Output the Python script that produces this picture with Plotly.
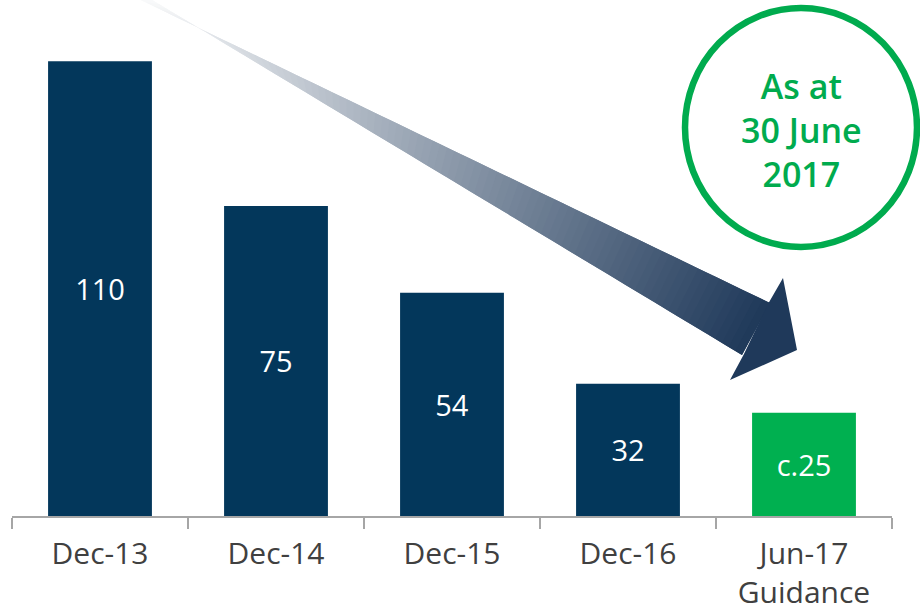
import plotly.graph_objects as go

# chart data
periods = ['Dec-13', 'Dec-14', 'Dec-15', 'Dec-16', 'Jun-17<br>Guidance']
values = [110, 75, 54, 32, 25]
labels = ['110', '75', '54', '32', 'c.25']
colors = ['#03375b', '#03375b', '#03375b', '#03375b', '#00b050']

W, H = 920, 612
ml, mr, mt, mb = 12, 28, 0, 96
pw, ph = W - ml - mr, H - mt - mb


def px(x, y):
    # pixel position -> paper coords (for decoration only)
    return (x - ml) / pw, (H - mb - y) / ph


fig = go.Figure()
fig.add_trace(go.Bar(
    x=periods, y=values, text=labels, width=0.59,
    marker=dict(color=colors, line=dict(width=0)),
    textposition='inside', insidetextanchor='middle', textangle=0,
    textfont=dict(color='white', size=29, family='Open Sans'),
    hoverinfo='skip'))

shapes = []

# gradient arrow: shaft split into slices, light at the tail, dark at the head
u0, u1 = (124, -8), (770, 303)
l0, l1 = (139, -8), (742, 355)
c0, c1 = (255, 255, 255), (31, 57, 90)
n = 90
for i in range(n):
    t0, t1 = i / n, min((i + 2.0) / n, 1)
    pts = [
        (u0[0] + (u1[0] - u0[0]) * t0, u0[1] + (u1[1] - u0[1]) * t0),
        (u0[0] + (u1[0] - u0[0]) * t1, u0[1] + (u1[1] - u0[1]) * t1),
        (l0[0] + (l1[0] - l0[0]) * t1, l0[1] + (l1[1] - l0[1]) * t1),
        (l0[0] + (l1[0] - l0[0]) * t0, l0[1] + (l1[1] - l0[1]) * t0),
    ]
    tm = (i + 0.5) / n
    col = tuple(int(c0[k] + (c1[k] - c0[k]) * tm) for k in range(3))
    path = 'M ' + ' L '.join('%f,%f' % px(*p) for p in pts) + ' Z'
    shapes.append(dict(type='path', xref='paper', yref='paper', path=path,
                       fillcolor='rgb(%d,%d,%d)' % col, line=dict(width=0), layer='above'))

head = [(768, 304), (783, 278), (797, 350), (730, 380), (744, 354)]
shapes.append(dict(type='path', xref='paper', yref='paper',
                   path='M ' + ' L '.join('%f,%f' % px(*p) for p in head) + ' Z',
                   fillcolor='rgb(31,57,90)', line=dict(width=0), layer='above'))

# green circle
cx0, cy0 = px(685, 8)
cx1, cy1 = px(917, 247)
shapes.append(dict(type='circle', xref='paper', yref='paper', x0=cx0, y0=cy1, x1=cx1, y1=cy0,
                   line=dict(color='#00ab4e', width=6.5), fillcolor='rgba(0,0,0,0)'))

ax, ay = px(801, 130)
fig.add_annotation(xref='paper', yref='paper', x=ax, y=ay, showarrow=False,
                   xanchor='center', yanchor='middle',
                   text='As at<br>30 June<br>2017', align='center',
                   font=dict(color='#00ab4e', size=34, family='Open Sans', weight=600))

fig.update_layout(
    width=W, height=H, margin=dict(l=ml, r=mr, t=mt, b=mb, autoexpand=False),
    paper_bgcolor='white', plot_bgcolor='white', showlegend=False,
    shapes=shapes, bargap=0.41)
fig.update_xaxes(showline=True, linecolor='#a6a6a6', linewidth=1.5, ticks='outside',
                 tickson='boundaries', ticklen=11, tickcolor='#a6a6a6', tickwidth=1.5,
                 tickfont=dict(size=30, color='#404040', family='Open Sans'),
                 ticklabelstandoff=10,
                 showgrid=False, range=[-0.5, 4.5], automargin=False)
fig.update_yaxes(visible=False, range=[0, 124.8], showgrid=False, automargin=False)

# page body has a default margin; drop it so the figure sits at the window corner
fig.write_html('out.html', config={'displayModeBar': False},
               post_script="document.body.style.margin='0';")
